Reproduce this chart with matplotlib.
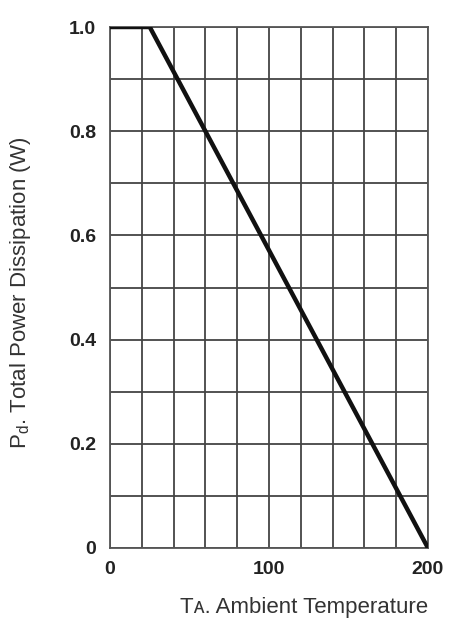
import matplotlib
matplotlib.use("Agg")
import matplotlib.pyplot as plt
import numpy as np

# Data
temp_c = [0, 25, 200]
power_w = [1.0, 1.0, 0.0]
x_ticks = [0, 100, 200]
x_ticklabels = ["0", "100", "200"]
y_ticks = [0, 0.2, 0.4, 0.6, 0.8, 1.0]
y_ticklabels = ["0", "0.2", "0.4", "0.6", "0.8", "1.0"]

fig = plt.figure(figsize=(4.52, 6.25), dpi=100)
ax = fig.add_axes([110/452, 1-548/625, (428-110)/452, (548-27)/625])

ax.set_xlim(0, 200)
ax.set_ylim(0, 1.0)

# grid
for gx in np.arange(0, 201, 20):
    ax.axvline(gx, color="#444444", lw=1.3, zorder=1)
for gy in np.arange(0, 1.01, 0.1):
    ax.axhline(gy, color="#444444", lw=1.3, zorder=1)

ax.plot(temp_c, power_w, color="#111111", lw=3.2, solid_capstyle="butt", zorder=3)

for s in ax.spines.values():
    s.set_color("#555555")
    s.set_linewidth(1.3)

ax.set_xticks(x_ticks)
ax.set_xticklabels(x_ticklabels)
ax.set_yticks(y_ticks)
ax.set_yticklabels(y_ticklabels)
ax.tick_params(length=0)
ax.tick_params(axis="y", pad=10)
ax.tick_params(axis="x", pad=9)
for lab in ax.get_xticklabels() + ax.get_yticklabels():
    lab.set_fontweight("bold")
    lab.set_fontsize(14)
    lab.set_color("#222222")
    lab.set_family("Liberation Sans")

fig.text(428/452, 1-607/625, "Tᴀ. Ambient Temperature", ha="right", va="center",
         fontsize=16, color="#333333", family=["Liberation Sans", "DejaVu Sans"])
fig.text(21/452, 1-293/625, "P$_\\mathregular{d}$. Total Power Dissipation (W)",
         rotation=90, ha="center", va="center", fontsize=16, color="#333333",
         family="Liberation Sans")

fig.savefig("out.png", dpi=100)
